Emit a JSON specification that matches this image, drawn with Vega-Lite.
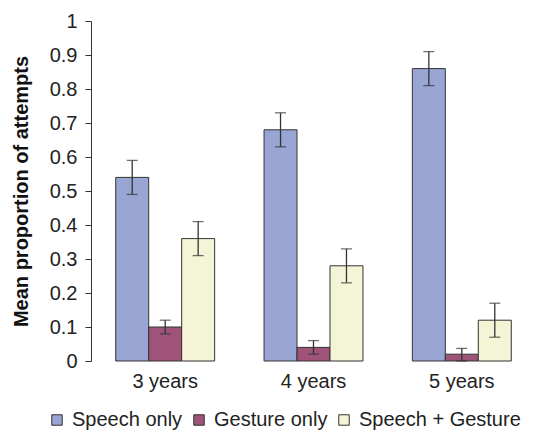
{
  "$schema": "https://vega.github.io/schema/vega-lite/v6.json",
  "autosize": "none",
  "width": 445,
  "height": 340,
  "padding": {"left": 91, "top": 21, "right": 5, "bottom": 70},
  "background": "white",
  "config": {
    "view": {"stroke": null},
    "font": "Liberation Sans",
    "axisY": {
      "title": "Mean proportion of attempts", "titleFontSize": 20, "titleFontWeight": "bold", "titleColor": "#111", "titlePadding": 18,
      "labelOverlap": false,
      "grid": false, "domainColor": "#333", "tickColor": "#333", "tickSize": 6, "labelFontSize": 20, "labelColor": "#222", "labelPadding": 8, "labelFlush": false
    }
  },
  "data": {
    "values": [
      {"age": "3 years", "cond": "Speech only", "mean": 0.54, "lo": 0.49, "hi": 0.59},
      {"age": "3 years", "cond": "Gesture only", "mean": 0.10, "lo": 0.08, "hi": 0.12},
      {"age": "3 years", "cond": "Speech + Gesture", "mean": 0.36, "lo": 0.31, "hi": 0.41},
      {"age": "4 years", "cond": "Speech only", "mean": 0.68, "lo": 0.63, "hi": 0.73},
      {"age": "4 years", "cond": "Gesture only", "mean": 0.04, "lo": 0.02, "hi": 0.06},
      {"age": "4 years", "cond": "Speech + Gesture", "mean": 0.28, "lo": 0.23, "hi": 0.33},
      {"age": "5 years", "cond": "Speech only", "mean": 0.86, "lo": 0.81, "hi": 0.91},
      {"age": "5 years", "cond": "Gesture only", "mean": 0.02, "lo": 0.00, "hi": 0.037},
      {"age": "5 years", "cond": "Speech + Gesture", "mean": 0.12, "lo": 0.07, "hi": 0.17}
    ]
  },
  "encoding": {
    "x": {
      "field": "age", "type": "nominal",
      "scale": {"paddingInner": 0.333, "paddingOuter": 0.1667},
      "axis": {"title": null, "domain": false, "ticks": false, "labelAngle": 0, "labelFontSize": 20, "labelColor": "#222", "labelPadding": 10}
    },
    "xOffset": {"field": "cond", "type": "nominal", "sort": ["Speech only", "Gesture only", "Speech + Gesture"], "scale": {"paddingInner": 0, "paddingOuter": 0}}
  },
  "layer": [
    {
      "mark": {"type": "bar", "stroke": "#333", "strokeWidth": 1},
      "encoding": {
        "y": {
          "field": "mean", "type": "quantitative",
          "scale": {"domain": [0, 1], "nice": false},
          "axis": {
            "title": "Mean proportion of attempts",
            "values": [0, 0.1, 0.2, 0.3, 0.4, 0.5, 0.6, 0.7, 0.8, 0.9, 1],
            "labelExpr": "datum.value == 0 ? '0' : datum.value == 1 ? '1' : format(datum.value, '.1f')"
          }
        },
        "color": {
          "field": "cond", "type": "nominal",
          "sort": ["Speech only", "Gesture only", "Speech + Gesture"],
          "scale": {"domain": ["Speech only", "Gesture only", "Speech + Gesture"], "range": ["#99A5D3", "#A05379", "#F4F4D6"]},
          "legend": {
            "title": null, "orient": "none", "direction": "horizontal", "legendX": -44, "legendY": 389,
            "symbolType": "square", "symbolSize": 110, "symbolStrokeColor": "#333", "symbolStrokeWidth": 1,
            "labelFontSize": 20, "labelColor": "#222", "labelLimit": 400, "columnPadding": 6, "labelOffset": 5
          }
        }
      }
    },
    {
      "mark": {"type": "rule", "color": "#333", "strokeWidth": 1.3},
      "encoding": {
        "y": {
          "field": "lo", "type": "quantitative",
          "axis": {
            "title": "Mean proportion of attempts",
            "values": [0, 0.1, 0.2, 0.3, 0.4, 0.5, 0.6, 0.7, 0.8, 0.9, 1],
            "labelExpr": "datum.value == 0 ? '0' : datum.value == 1 ? '1' : format(datum.value, '.1f')"
          }
        },
        "y2": {"field": "hi"}
      }
    },
    {
      "mark": {"type": "tick", "color": "#333", "thickness": 1.3, "size": 11},
      "encoding": {
        "y": {
          "field": "lo", "type": "quantitative",
          "axis": {
            "title": "Mean proportion of attempts",
            "values": [0, 0.1, 0.2, 0.3, 0.4, 0.5, 0.6, 0.7, 0.8, 0.9, 1],
            "labelExpr": "datum.value == 0 ? '0' : datum.value == 1 ? '1' : format(datum.value, '.1f')"
          }
        }
      }
    },
    {
      "mark": {"type": "tick", "color": "#333", "thickness": 1.3, "size": 11},
      "encoding": {
        "y": {
          "field": "hi", "type": "quantitative",
          "axis": {
            "title": "Mean proportion of attempts",
            "values": [0, 0.1, 0.2, 0.3, 0.4, 0.5, 0.6, 0.7, 0.8, 0.9, 1],
            "labelExpr": "datum.value == 0 ? '0' : datum.value == 1 ? '1' : format(datum.value, '.1f')"
          }
        }
      }
    }
  ]
}
